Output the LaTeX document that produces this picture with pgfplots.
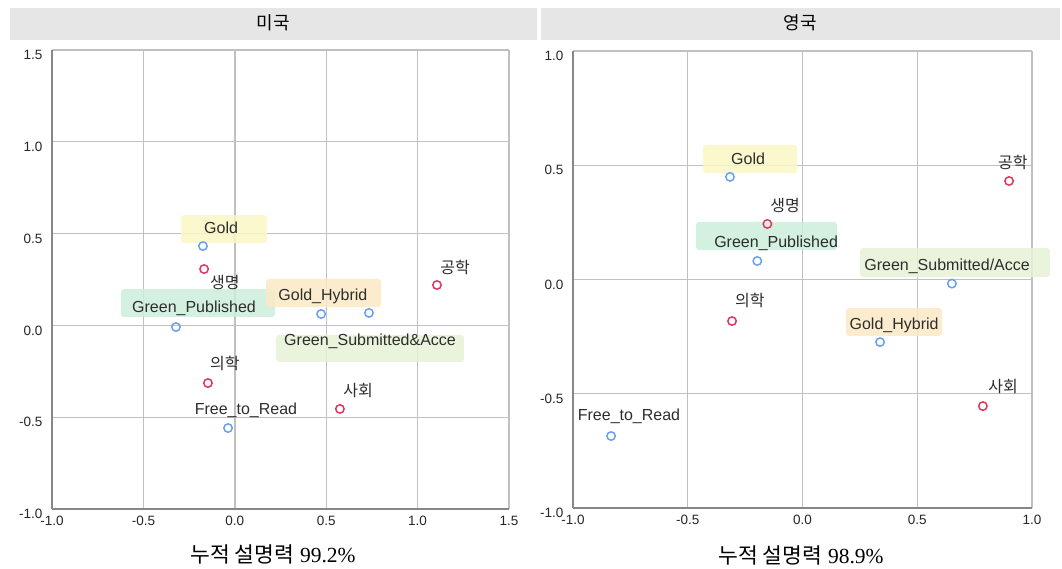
\documentclass[border=0pt]{standalone}
\usepackage{fontspec}
\usepackage{pgfplots}
\pgfplotsset{compat=1.18}
\setmainfont{Liberation Sans}
\newfontfamily\kr{Noto Sans CJK KR}
\newfontfamily\ser{Liberation Serif}

\definecolor{oablue}{RGB}{105,160,240}
\definecolor{discred}{RGB}{225,55,95}
\definecolor{hdr}{RGB}{230,230,230}
\definecolor{gridc}{RGB}{192,192,192}
\definecolor{axc}{RGB}{135,135,135}
\definecolor{lbl}{RGB}{45,45,45}
\definecolor{bxgold}{RGB}{250,247,196}
\definecolor{bxgpub}{RGB}{203,237,218}
\definecolor{bxhyb}{RGB}{251,233,198}
\definecolor{bxgsub}{RGB}{230,242,214}

\newcommand{\lf}{\fontsize{16}{18}\selectfont}

\pgfplotsset{
  casty/.style={
    scale only axis, clip=false,
    axis x line=bottom, axis y line=left,
    axis line style={-, axc, line width=1.8pt},
    grid=major, major grid style={gridc, line width=1.4pt},
    major tick length=0pt,
    tick label style={font=\fontsize{13.5}{15}\selectfont, text=black!85},
    /pgf/number format/assume math mode=true,
    /pgf/number format/.cd, fixed, fixed zerofill, precision=1,
  },
  oapts/.style={only marks, mark=o, mark size=4.2pt, oablue, line width=1.5pt},
  dspts/.style={only marks, mark=o, mark size=4.2pt, discred, line width=1.5pt},
}

\begin{document}
\begin{tikzpicture}
\useasboundingbox (0,0) rectangle (1062pt,568pt);

% header bars
\fill[hdr] (10pt,528pt) rectangle (537pt,560pt);
\fill[hdr] (541pt,528pt) rectangle (1060pt,560pt);
\node[font=\kr\fontsize{18}{20}\selectfont] at (273pt,545pt) {미국};
\node[font=\kr\fontsize{18}{20}\selectfont] at (800pt,545pt) {영국};

% ---------------- US ----------------
\begin{axis}[casty,
  at={(52pt,59pt)}, anchor=south west,
  width=457pt, height=459pt,
  xmin=-1, xmax=1.5, ymin=-1, ymax=1.5,
  xtick={-1,-0.5,0,0.5,1,1.5}, ytick={-1,-0.5,0,0.5,1,1.5},
  xticklabel style={yshift=-4pt},
  yticklabel style={xshift=-6pt, yshift=-5pt},
]
\fill[bxgold, opacity=0.85, rounded corners=3pt] (axis cs:-0.294,0.449) rectangle (axis cs:0.176,0.601);
\fill[bxgpub, opacity=0.85, rounded corners=3pt] (axis cs:-0.623,0.046) rectangle (axis cs:0.220,0.198);
\fill[bxhyb, opacity=0.85, rounded corners=3pt] (axis cs:0.171,0.100) rectangle (axis cs:0.800,0.253);
\fill[bxgsub, opacity=0.85, rounded corners=3pt] (axis cs:0.225,-0.199) rectangle (axis cs:1.254,-0.052);
\addplot[oapts] coordinates {(-0.174,0.432) (-0.322,-0.009) (0.472,0.062) (0.734,0.068) (-0.037,-0.559)};
\addplot[dspts] coordinates {(-0.168,0.307) (1.106,0.220) (-0.147,-0.314) (0.575,-0.455)};
\node[text=lbl, font=\lf] at (axis cs:-0.075,0.530) {Gold};
\node[text=lbl, font=\lf] at (axis cs:-0.223,0.095) {Green\_Published};
\node[text=lbl, font=\lf] at (axis cs:0.482,0.160) {Gold\_Hybrid};
\node[text=lbl, font=\lf] at (axis cs:0.740,-0.085) {Green\_Submitted\&Acce};
\node[text=lbl, font=\lf] at (axis cs:0.061,-0.461) {Free\_to\_Read};
\node[text=lbl, font=\kr\lf] at (axis cs:-0.054,0.231) {생명};
\node[text=lbl, font=\kr\lf] at (axis cs:1.205,0.318) {공학};
\node[text=lbl, font=\kr\lf] at (axis cs:-0.054,-0.210) {의학};
\node[text=lbl, font=\kr\lf] at (axis cs:0.674,-0.352) {사회};
\end{axis}

% ---------------- UK ----------------
\begin{axis}[casty,
  at={(573pt,60pt)}, anchor=south west,
  width=459pt, height=457pt,
  xmin=-1, xmax=1, ymin=-1, ymax=1,
  xtick={-1,-0.5,0,0.5,1}, ytick={-1,-0.5,0,0.5,1},
  xticklabel style={yshift=-4pt},
  yticklabel style={xshift=-6pt, yshift=-5pt},
]
\fill[bxgold, opacity=0.85, rounded corners=3pt] (axis cs:-0.434,0.466) rectangle (axis cs:-0.024,0.589);
\fill[bxgpub, opacity=0.85, rounded corners=3pt] (axis cs:-0.464,0.129) rectangle (axis cs:0.150,0.252);
\fill[bxgsub, opacity=0.85, rounded corners=3pt] (axis cs:0.251,0.011) rectangle (axis cs:1.078,0.138);
\fill[bxhyb, opacity=0.85, rounded corners=3pt] (axis cs:0.190,-0.247) rectangle (axis cs:0.608,-0.125);
\addplot[oapts] coordinates {(-0.316,0.449) (-0.197,0.081) (0.651,-0.018) (0.338,-0.274) (-0.834,-0.685)};
\addplot[dspts] coordinates {(-0.153,0.243) (0.900,0.431) (-0.307,-0.182) (0.786,-0.554)};
\node[text=lbl, font=\lf] at (axis cs:-0.237,0.527) {Gold};
\node[text=lbl, font=\lf] at (axis cs:-0.115,0.160) {Green\_Published};
\node[text=lbl, font=\lf] at (axis cs:0.630,0.059) {Green\_Submitted/Acce};
\node[text=lbl, font=\lf] at (axis cs:0.399,-0.199) {Gold\_Hybrid};
\node[text=lbl, font=\lf] at (axis cs:-0.756,-0.597) {Free\_to\_Read};
\node[text=lbl, font=\kr\lf] at (axis cs:-0.076,0.326) {생명};
\node[text=lbl, font=\kr\lf] at (axis cs:0.917,0.510) {공학};
\node[text=lbl, font=\kr\lf] at (axis cs:-0.229,-0.090) {의학};
\node[text=lbl, font=\kr\lf] at (axis cs:0.874,-0.470) {사회};
\end{axis}

% captions
\node[font=\fontsize{21.5}{24}\selectfont] at (273pt,14pt) {{\kr 누적 설명력} {\ser 99.2\%}};
\node[font=\fontsize{21.5}{24}\selectfont] at (801pt,13pt) {{\kr 누적 설명력} {\ser 98.9\%}};
\end{tikzpicture}
\end{document}
